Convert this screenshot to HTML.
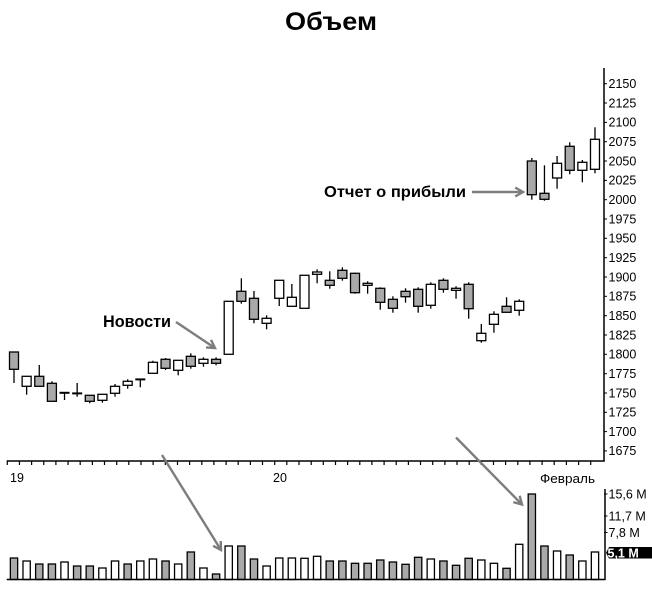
<!DOCTYPE html>
<html><head><meta charset="utf-8"><style>
html,body{margin:0;padding:0;background:#fff;}
svg{display:block;}
text{font-family:"Liberation Sans",sans-serif;fill:#000;}
.g{fill:#a9a9a9;stroke:#000;stroke-width:1.3;}
.w{fill:#fff;stroke:#000;stroke-width:1.3;}
.k line{stroke:#000;stroke-width:1.3;}
.ar{stroke:#7d7d7d;stroke-width:2.4;fill:none;}
</style></head><body>
<svg width="652" height="598" viewBox="0 0 652 598" xmlns="http://www.w3.org/2000/svg">
<rect width="652" height="598" fill="#fff"/>
<text x="285" y="30" font-size="25" font-weight="bold" textLength="92" lengthAdjust="spacingAndGlyphs">Объем</text>

<!-- axes -->
<line x1="604" y1="68" x2="604" y2="461.5" stroke="#000" stroke-width="1.5"/>
<line x1="6.7" y1="461" x2="604.7" y2="461" stroke="#000" stroke-width="1.5"/>
<g stroke="#000" stroke-width="1.2">
<line x1="7.3" y1="461" x2="7.3" y2="465"/><line x1="19.45" y1="461" x2="19.45" y2="465"/><line x1="31.6" y1="461" x2="31.6" y2="465"/><line x1="43.76" y1="461" x2="43.76" y2="465"/><line x1="55.9" y1="461" x2="55.9" y2="465"/><line x1="68.07" y1="461" x2="68.07" y2="465"/><line x1="80.2" y1="461" x2="80.2" y2="465"/><line x1="92.4" y1="461" x2="92.4" y2="465"/><line x1="104.5" y1="461" x2="104.5" y2="465"/><line x1="116.7" y1="461" x2="116.7" y2="465"/><line x1="128.8" y1="461" x2="128.8" y2="465"/><line x1="141" y1="461" x2="141" y2="465"/><line x1="153.1" y1="461" x2="153.1" y2="465"/><line x1="165.3" y1="461" x2="165.3" y2="465"/><line x1="177.5" y1="461" x2="177.5" y2="465"/><line x1="189.6" y1="461" x2="189.6" y2="465"/><line x1="201.8" y1="461" x2="201.8" y2="465"/><line x1="213.9" y1="461" x2="213.9" y2="465"/><line x1="226.1" y1="461" x2="226.1" y2="465"/><line x1="238.2" y1="461" x2="238.2" y2="465"/><line x1="250.4" y1="461" x2="250.4" y2="465"/><line x1="262.5" y1="461" x2="262.5" y2="465"/><line x1="274.7" y1="461" x2="274.7" y2="465"/><line x1="286.8" y1="461" x2="286.8" y2="465"/><line x1="299" y1="461" x2="299" y2="465"/><line x1="311.2" y1="461" x2="311.2" y2="465"/><line x1="323.3" y1="461" x2="323.3" y2="465"/><line x1="335.5" y1="461" x2="335.5" y2="465"/><line x1="347.6" y1="461" x2="347.6" y2="465"/><line x1="359.8" y1="461" x2="359.8" y2="465"/><line x1="371.9" y1="461" x2="371.9" y2="465"/><line x1="384.1" y1="461" x2="384.1" y2="465"/><line x1="396.2" y1="461" x2="396.2" y2="465"/><line x1="408.4" y1="461" x2="408.4" y2="465"/><line x1="420.5" y1="461" x2="420.5" y2="465"/><line x1="432.7" y1="461" x2="432.7" y2="465"/><line x1="444.9" y1="461" x2="444.9" y2="465"/><line x1="457" y1="461" x2="457" y2="465"/><line x1="469.2" y1="461" x2="469.2" y2="465"/><line x1="481.3" y1="461" x2="481.3" y2="465"/><line x1="493.5" y1="461" x2="493.5" y2="465"/><line x1="505.6" y1="461" x2="505.6" y2="465"/><line x1="517.8" y1="461" x2="517.8" y2="465"/><line x1="529.9" y1="461" x2="529.9" y2="465"/><line x1="542.1" y1="461" x2="542.1" y2="465"/><line x1="554.2" y1="461" x2="554.2" y2="465"/><line x1="566.4" y1="461" x2="566.4" y2="465"/><line x1="578.6" y1="461" x2="578.6" y2="465"/><line x1="590.7" y1="461" x2="590.7" y2="465"/>
</g>
<!-- price ticks & labels -->
<g stroke="#000" stroke-width="1">
<line x1="604" y1="83.7" x2="607" y2="83.7"/><line x1="604" y1="103" x2="607" y2="103"/><line x1="604" y1="122.4" x2="607" y2="122.4"/><line x1="604" y1="141.7" x2="607" y2="141.7"/><line x1="604" y1="161" x2="607" y2="161"/><line x1="604" y1="180.4" x2="607" y2="180.4"/><line x1="604" y1="199.7" x2="607" y2="199.7"/><line x1="604" y1="219" x2="607" y2="219"/><line x1="604" y1="238.3" x2="607" y2="238.3"/><line x1="604" y1="257.7" x2="607" y2="257.7"/><line x1="604" y1="277" x2="607" y2="277"/><line x1="604" y1="296.3" x2="607" y2="296.3"/><line x1="604" y1="315.7" x2="607" y2="315.7"/><line x1="604" y1="335" x2="607" y2="335"/><line x1="604" y1="354.3" x2="607" y2="354.3"/><line x1="604" y1="373.7" x2="607" y2="373.7"/><line x1="604" y1="393" x2="607" y2="393"/><line x1="604" y1="412.3" x2="607" y2="412.3"/><line x1="604" y1="431.6" x2="607" y2="431.6"/><line x1="604" y1="450.9" x2="607" y2="450.9"/>
</g>
<g font-size="12.5">
<text x="608.5" y="88">2150</text><text x="608.5" y="107.3">2125</text><text x="608.5" y="126.7">2100</text><text x="608.5" y="146">2075</text><text x="608.5" y="165.3">2050</text><text x="608.5" y="184.7">2025</text><text x="608.5" y="204">2000</text><text x="608.5" y="223.3">1975</text><text x="608.5" y="242.6">1950</text><text x="608.5" y="262">1925</text><text x="608.5" y="281.3">1900</text><text x="608.5" y="300.6">1875</text><text x="608.5" y="320">1850</text><text x="608.5" y="339.3">1825</text><text x="608.5" y="358.6">1800</text><text x="608.5" y="378">1775</text><text x="608.5" y="397.3">1750</text><text x="608.5" y="416.6">1725</text><text x="608.5" y="436">1700</text><text x="608.5" y="455.2">1675</text>
</g>
<g font-size="12.5">
<text x="10" y="482">19</text>
<text x="273" y="482">20</text>
<text x="540" y="483" textLength="55" lengthAdjust="spacingAndGlyphs">Февраль</text>
</g>

<!-- candles -->
<g class="k">
<line x1="14" y1="352" x2="14" y2="383"/><rect class="g" x="9.5" y="352" width="9" height="17.3"/>
<line x1="26.63" y1="376.3" x2="26.63" y2="394.7"/><rect class="w" x="22.13" y="376.3" width="9" height="10"/>
<line x1="39.26" y1="365" x2="39.26" y2="386.3"/><rect class="g" x="34.76" y="376.3" width="9" height="10"/>
<line x1="51.89" y1="381.3" x2="51.89" y2="401.3"/><rect class="g" x="47.39" y="383.3" width="9" height="18"/>
<line x1="64.52" y1="392.7" x2="64.52" y2="400"/><rect fill="#000" x="59.52" y="391.8" width="10" height="2"/>
<line x1="77.15" y1="383" x2="77.15" y2="396.7"/><rect fill="#000" x="72.15" y="392.4" width="10" height="2"/>
<line x1="89.78" y1="395.3" x2="89.78" y2="403.3"/><rect class="g" x="85.28" y="395.3" width="9" height="6"/>
<line x1="102.41" y1="394.3" x2="102.41" y2="402.7"/><rect class="w" x="97.91" y="394.3" width="9" height="6"/>
<line x1="115.04" y1="384" x2="115.04" y2="396.7"/><rect class="w" x="110.54" y="386.3" width="9" height="7"/>
<line x1="127.67" y1="379.3" x2="127.67" y2="388.7"/><rect class="w" x="123.17" y="381.3" width="9" height="4"/>
<line x1="140.3" y1="379.3" x2="140.3" y2="387.3"/><rect fill="#000" x="135.3" y="378.4" width="10" height="2"/>
<line x1="152.93" y1="360.7" x2="152.93" y2="373.3"/><rect class="w" x="148.43" y="362.3" width="9" height="11"/>
<line x1="165.56" y1="358" x2="165.56" y2="370"/><rect class="g" x="161.06" y="359.3" width="9" height="9"/>
<line x1="178.19" y1="360" x2="178.19" y2="375.3"/><rect class="w" x="173.69" y="360.3" width="9" height="10"/>
<line x1="190.82" y1="353.3" x2="190.82" y2="368.7"/><rect class="g" x="186.32" y="356.3" width="9" height="10"/>
<line x1="203.45" y1="357.3" x2="203.45" y2="366.7"/><rect class="w" x="198.95" y="359.3" width="9" height="4"/>
<line x1="216.08" y1="357.3" x2="216.08" y2="365.3"/><rect class="g" x="211.58" y="359.3" width="9" height="4"/>
<rect class="w" x="224.21" y="301.3" width="9" height="53"/>
<line x1="241.34" y1="278.3" x2="241.34" y2="303.7"/><rect class="g" x="236.84" y="291.3" width="9" height="10"/>
<line x1="253.97" y1="291" x2="253.97" y2="323.3"/><rect class="g" x="249.47" y="298.3" width="9" height="21"/>
<line x1="266.6" y1="315.3" x2="266.6" y2="329.3"/><rect class="w" x="262.1" y="318.3" width="9" height="5"/>
<line x1="279.23" y1="280.3" x2="279.23" y2="306"/><rect class="w" x="274.73" y="280.3" width="9" height="18"/>
<line x1="291.86" y1="284" x2="291.86" y2="306.3"/><rect class="w" x="287.36" y="297.3" width="9" height="9"/>
<rect class="w" x="299.99" y="275.3" width="9" height="33"/>
<line x1="317.12" y1="269.3" x2="317.12" y2="283.3"/><rect class="w" x="312.62" y="272" width="9" height="2.3"/>
<line x1="329.75" y1="271.3" x2="329.75" y2="288.7"/><rect class="g" x="325.25" y="280.3" width="9" height="5"/>
<line x1="342.38" y1="267.3" x2="342.38" y2="280.7"/><rect class="g" x="337.88" y="270.3" width="9" height="8"/>
<line x1="355.01" y1="272.7" x2="355.01" y2="293.7"/><rect class="g" x="350.51" y="273.3" width="9" height="19.4"/>
<line x1="367.64" y1="281.3" x2="367.64" y2="293.7"/><rect class="w" x="363.14" y="283.3" width="9" height="2"/>
<line x1="380.27" y1="287.3" x2="380.27" y2="309.7"/><rect class="g" x="375.77" y="288.3" width="9" height="14"/>
<line x1="392.9" y1="296.3" x2="392.9" y2="312.7"/><rect class="g" x="388.4" y="299.3" width="9" height="9"/>
<line x1="405.53" y1="288.3" x2="405.53" y2="302.7"/><rect class="g" x="401.03" y="291.3" width="9" height="5.4"/>
<line x1="418.16" y1="287.3" x2="418.16" y2="312.7"/><rect class="g" x="413.66" y="289.3" width="9" height="17"/>
<line x1="430.79" y1="282.3" x2="430.79" y2="308.7"/><rect class="w" x="426.29" y="284.3" width="9" height="21"/>
<line x1="443.42" y1="278.3" x2="443.42" y2="292.7"/><rect class="g" x="438.92" y="280.3" width="9" height="9"/>
<line x1="456.05" y1="286.3" x2="456.05" y2="298.7"/><rect class="w" x="451.55" y="288.3" width="9" height="2"/>
<line x1="468.68" y1="282.3" x2="468.68" y2="318.7"/><rect class="g" x="464.18" y="284.3" width="9" height="24.4"/>
<line x1="481.31" y1="324" x2="481.31" y2="342.7"/><rect class="w" x="476.81" y="333.3" width="9" height="7.4"/>
<line x1="493.94" y1="311.3" x2="493.94" y2="332.7"/><rect class="w" x="489.44" y="314.3" width="9" height="10"/>
<line x1="506.57" y1="297.3" x2="506.57" y2="312.3"/><rect class="g" x="502.07" y="306.3" width="9" height="6"/>
<line x1="519.2" y1="299.3" x2="519.2" y2="315.7"/><rect class="w" x="514.7" y="301.3" width="9" height="9"/>
<line x1="531.83" y1="158" x2="531.83" y2="199.7"/><rect class="g" x="527.33" y="161" width="9" height="33.7"/>
<line x1="544.46" y1="165.3" x2="544.46" y2="200.7"/><rect class="g" x="539.96" y="193.3" width="9" height="6"/>
<line x1="557.09" y1="156" x2="557.09" y2="188.7"/><rect class="w" x="552.59" y="163.3" width="9" height="14.7"/>
<line x1="569.72" y1="142.3" x2="569.72" y2="174.3"/><rect class="g" x="565.22" y="146.3" width="9" height="24"/>
<line x1="582.35" y1="160" x2="582.35" y2="182.3"/><rect class="w" x="577.85" y="162.3" width="9" height="8"/>
<line x1="594.98" y1="127.3" x2="594.98" y2="173.3"/><rect class="w" x="590.48" y="139.3" width="9" height="30"/>
</g>

<!-- volume panel -->
<g>
<rect class="g" x="10.35" y="558" width="7.3" height="21.5"/>
<rect class="w" x="22.98" y="561" width="7.3" height="18.5"/>
<rect class="g" x="35.61" y="564" width="7.3" height="15.5"/>
<rect class="g" x="48.24" y="564" width="7.3" height="15.5"/>
<rect class="w" x="60.87" y="562" width="7.3" height="17.5"/>
<rect class="g" x="73.5" y="566" width="7.3" height="13.5"/>
<rect class="g" x="86.13" y="566" width="7.3" height="13.5"/>
<rect class="w" x="98.76" y="568" width="7.3" height="11.5"/>
<rect class="w" x="111.39" y="561" width="7.3" height="18.5"/>
<rect class="g" x="124.02" y="564" width="7.3" height="15.5"/>
<rect class="w" x="136.65" y="561" width="7.3" height="18.5"/>
<rect class="w" x="149.28" y="559" width="7.3" height="20.5"/>
<rect class="g" x="161.91" y="561" width="7.3" height="18.5"/>
<rect class="w" x="174.54" y="564" width="7.3" height="15.5"/>
<rect class="g" x="187.17" y="552" width="7.3" height="27.5"/>
<rect class="w" x="199.8" y="568" width="7.3" height="11.5"/>
<rect class="g" x="212.43" y="574" width="7.3" height="5.5"/>
<rect class="w" x="225.06" y="546" width="7.3" height="33.5"/>
<rect class="g" x="237.69" y="546" width="7.3" height="33.5"/>
<rect class="g" x="250.32" y="559" width="7.3" height="20.5"/>
<rect class="w" x="262.95" y="566" width="7.3" height="13.5"/>
<rect class="w" x="275.58" y="558" width="7.3" height="21.5"/>
<rect class="w" x="288.21" y="558" width="7.3" height="21.5"/>
<rect class="w" x="300.84" y="558.3" width="7.3" height="21.2"/>
<rect class="w" x="313.47" y="556.3" width="7.3" height="23.2"/>
<rect class="g" x="326.1" y="561" width="7.3" height="18.5"/>
<rect class="g" x="338.73" y="561" width="7.3" height="18.5"/>
<rect class="g" x="351.36" y="563.3" width="7.3" height="16.2"/>
<rect class="g" x="363.99" y="563.3" width="7.3" height="16.2"/>
<rect class="g" x="376.62" y="560" width="7.3" height="19.5"/>
<rect class="g" x="389.25" y="562" width="7.3" height="17.5"/>
<rect class="g" x="401.88" y="564.3" width="7.3" height="15.2"/>
<rect class="g" x="414.51" y="557.3" width="7.3" height="22.2"/>
<rect class="w" x="427.14" y="559" width="7.3" height="20.5"/>
<rect class="g" x="439.77" y="561" width="7.3" height="18.5"/>
<rect class="g" x="452.4" y="565.3" width="7.3" height="14.2"/>
<rect class="g" x="465.03" y="558.3" width="7.3" height="21.2"/>
<rect class="w" x="477.66" y="560" width="7.3" height="19.5"/>
<rect class="w" x="490.29" y="563.3" width="7.3" height="16.2"/>
<rect class="g" x="502.92" y="568.3" width="7.3" height="11.2"/>
<rect class="w" x="515.55" y="544.3" width="7.3" height="35.2"/>
<rect class="g" x="528.18" y="494" width="7.3" height="85.5"/>
<rect class="g" x="540.81" y="546" width="7.3" height="33.5"/>
<rect class="w" x="553.44" y="551" width="7.3" height="28.5"/>
<rect class="g" x="566.07" y="555" width="7.3" height="24.5"/>
<rect class="w" x="578.7" y="561" width="7.3" height="18.5"/>
<rect class="w" x="591.33" y="552" width="7.3" height="27.5"/>
</g>
<line x1="6.7" y1="579.5" x2="605.5" y2="579.5" stroke="#000" stroke-width="1.5"/>
<line x1="605" y1="489" x2="605" y2="580" stroke="#000" stroke-width="1.5"/>
<g stroke="#000" stroke-width="1">
<line x1="604" y1="494" x2="607.5" y2="494"/><line x1="604" y1="516" x2="607.5" y2="516"/><line x1="604" y1="532.5" x2="607.5" y2="532.5"/>
</g>
<g font-size="12.5">
<text x="608.5" y="498.5">15,6 M</text>
<text x="608.5" y="520.5">11,7 M</text>
<text x="608.5" y="537">7,8 M</text>
</g>
<polygon points="606,552.8 609,547 652,547 652,558.5 609,558.5" fill="#000"/>
<text x="607.5" y="557.3" font-size="12.5" font-weight="bold" style="fill:#fff">5,1 M</text>

<!-- annotations -->
<text x="103" y="327" font-size="16.5" font-weight="bold" textLength="68" lengthAdjust="spacingAndGlyphs">Новости</text>
<text x="324" y="197" font-size="15.5" font-weight="bold" textLength="142" lengthAdjust="spacingAndGlyphs">Отчет о прибыли</text>

<line class="ar" x1="176" y1="322" x2="214.5" y2="347.7"/>
<polyline class="ar" points="211,339.9 215,348 206,347.4"/>

<line class="ar" x1="162" y1="455" x2="220.5" y2="549.2"/>
<polyline class="ar" points="220.7,541 221,550 213.1,545.8"/>

<line class="ar" x1="472" y1="192" x2="522.5" y2="192"/>
<polyline class="ar" points="515.2,187.5 523,192 515.2,196.5"/>

<line class="ar" x1="456" y1="437.5" x2="521.5" y2="504"/>
<polyline class="ar" points="519.7,495.8 522,504.5 513.3,502.1"/>
</svg>
</body></html>
